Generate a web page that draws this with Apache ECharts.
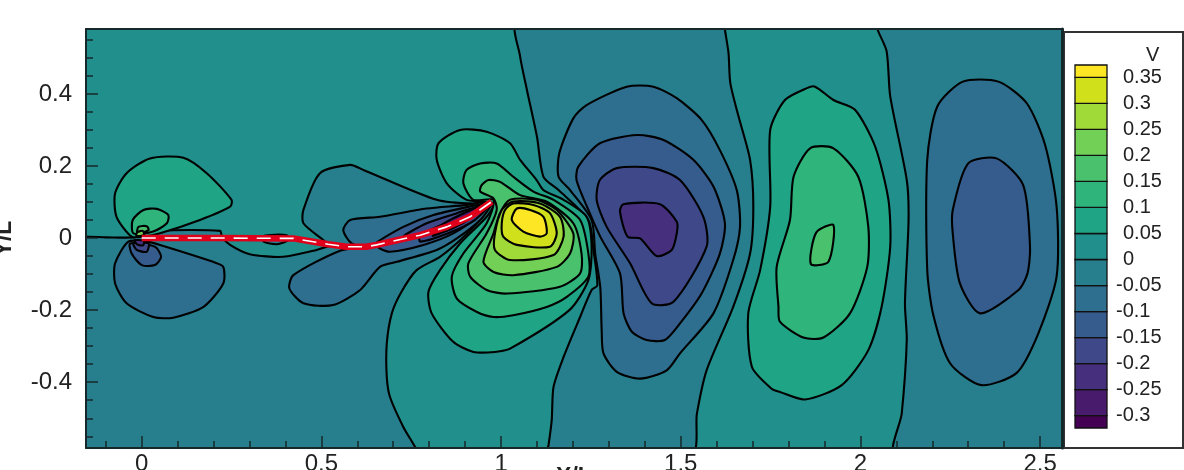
<!DOCTYPE html>
<html>
<head>
<meta charset="utf-8">
<title>V contour</title>
<script src="https://cdn.jsdelivr.net/npm/echarts@6/dist/echarts.min.js"></script>
<style>
html, body { margin: 0; padding: 0; background: #fff; overflow: hidden; }
#chart { width: 1184px; height: 470px; filter: blur(0.5px); }
</style>
</head>
<body>
<div id="chart"></div>
<script>
// tick positions
const xMajorTicks = [0, 0.5, 1, 1.5, 2, 2.5];
const xMinorTicks = [-0.1, 0.1, 0.2, 0.3, 0.4, 0.6, 0.7, 0.8, 0.9, 1.1, 1.2, 1.3, 1.4, 1.6, 1.7, 1.8, 1.9, 2.1, 2.2, 2.3, 2.4];
const yMajorTicks = [-0.4, -0.2, 0, 0.2, 0.4];
const yMinorTicks = [-0.55, -0.5, -0.45, -0.35, -0.3, -0.25, -0.15, -0.1, -0.05, 0.05, 0.1, 0.15, 0.25, 0.3, 0.35, 0.45, 0.5, 0.55];

// colour bar levels
const legendPositive = [0.35, 0.3, 0.25, 0.2, 0.15, 0.1, 0.05, 0];
const legendNegative = [-0.05, -0.1, -0.15, -0.2, -0.25, -0.3];
const bandFloors = [-0.3236, -0.3, -0.25, -0.2, -0.15, -0.1, -0.05, 0, 0.05, 0.1, 0.15, 0.2, 0.25, 0.3, 0.35];
const bandCeil = 0.3736;

// plate centre line
const plate = [[0, 0], [0.218, 0], [0.422, -0.001], [0.519, -0.017], [0.57, -0.024], [0.625, -0.024], [0.654, -0.019], [0.71, -0.006], [0.775, 0.008], [0.849, 0.031], [0.914, 0.059], [0.974, 0.101]];

// zero contour regions (V between -0.05 and 0)
const zeroLowerLeft = [[-0.17, -0.02], [-0.17, 0.002], [-0.1, 0.002], [-0.02, 0.002], [0.051, 0.02], [0.218, 0.02], [0.223, 0.004], [0.246, -0.019], [0.301, -0.045], [0.394, -0.052], [0.487, -0.033], [0.543, -0.017], [0.57, -0.024], [0.625, -0.024], [0.654, -0.019], [0.71, -0.006], [0.775, 0.008], [0.849, 0.031], [0.914, 0.059], [0.974, 0.101], [0.941, 0.05], [0.886, -0.006], [0.83, -0.052], [0.765, -0.089], [0.723, -0.149], [0.696, -0.209], [0.682, -0.293], [0.682, -0.385], [0.691, -0.441], [0.728, -0.524], [0.761, -0.58], [0.77, -0.6], [-0.17, -0.6]];
const zeroWakeOne = [[1.045, 0.6], [1.62, 0.6], [1.623, 0.578], [1.633, 0.513], [1.638, 0.43], [1.661, 0.337], [1.693, 0.217], [1.702, 0.087], [1.693, -0.043], [1.646, -0.191], [1.572, -0.367], [1.545, -0.487], [1.53, -0.6], [1.127, -0.6], [1.132, -0.575], [1.141, -0.505], [1.146, -0.413], [1.174, -0.33], [1.22, -0.219], [1.252, -0.144], [1.268, -0.131], [1.257, -0.033], [1.243, 0.05], [1.16, 0.133], [1.118, 0.17], [1.1, 0.281], [1.072, 0.411], [1.053, 0.504]];
const zeroWakeTwo = [[2.045, 0.6], [2.048, 0.578], [2.073, 0.518], [2.083, 0.393], [2.129, 0.161], [2.134, 0.05], [2.124, -0.181], [2.129, -0.283], [2.115, -0.487], [2.097, -0.6], [2.6, -0.6], [2.6, 0.6]];
const zeroUpperLobe = [[0.506, -0.006], [0.45, 0.041], [0.45, 0.078], [0.496, 0.18], [0.58, 0.203], [0.617, 0.189], [0.821, 0.106], [0.923, 0.096], [0.974, 0.103], [0.914, 0.059], [0.849, 0.031], [0.775, 0.008], [0.71, -0.006], [0.654, -0.019], [0.625, -0.024], [0.57, -0.024], [0.519, -0.017]];
const zeroSmallLobe = [[0.339, 0.006], [0.404, 0.008], [0.408, -0.006], [0.376, -0.017], [0.339, -0.01]];

// negative contours along the plate
const n05LowerLobe = [[0.552, -0.035], [0.422, -0.103], [0.411, -0.14], [0.45, -0.181], [0.533, -0.186], [0.608, -0.144], [0.663, -0.08], [0.71, -0.066], [0.821, -0.033], [0.877, -0.001], [0.942, 0.05], [0.974, 0.096], [0.914, 0.059], [0.849, 0.031], [0.775, 0.008], [0.71, -0.006], [0.654, -0.019], [0.625, -0.024]];
const n05UpperLobe = [[0.584, -0.015], [0.561, 0.022], [0.58, 0.05], [0.663, 0.059], [0.793, 0.082], [0.905, 0.092], [0.974, 0.103], [0.914, 0.059], [0.849, 0.031], [0.775, 0.008], [0.71, -0.006], [0.654, -0.019], [0.625, -0.024]];
const n10Upper = [[0.649, -0.017], [0.728, 0.031], [0.812, 0.064], [0.951, 0.096], [0.974, 0.103], [0.914, 0.059], [0.849, 0.031], [0.775, 0.008], [0.71, -0.006]];
const n15Upper = [[0.728, 0.004], [0.793, 0.041], [0.877, 0.069], [0.96, 0.096], [0.974, 0.103], [0.914, 0.059], [0.849, 0.031], [0.775, 0.008]];
const n20Upper = [[0.802, 0.022], [0.877, 0.055], [0.965, 0.098], [0.914, 0.059], [0.849, 0.031]];
const n25Upper = [[0.83, 0.033], [0.89, 0.066], [0.968, 0.099], [0.914, 0.059], [0.849, 0.031]];
const n10Lower = [[0.663, -0.029], [0.691, -0.038], [0.784, -0.019], [0.867, 0.013], [0.942, 0.064], [0.974, 0.101], [0.914, 0.059], [0.849, 0.031], [0.775, 0.008], [0.71, -0.006], [0.654, -0.019]];
const n15Lower = [[0.775, -0.01], [0.849, 0.012], [0.927, 0.05], [0.974, 0.101], [0.914, 0.059], [0.849, 0.031], [0.775, 0.008]];
const n20Lower = [[0.81, 0.006], [0.87, 0.03], [0.95, 0.08], [0.974, 0.101], [0.914, 0.059], [0.849, 0.031]];
const n25Lower = [[0.84, 0.018], [0.9, 0.045], [0.96, 0.09], [0.914, 0.059], [0.849, 0.031]];

// positive lobe behind the trailing edge
const p05Main = [[0.979, 0.096], [0.904, 0.106], [0.849, 0.152], [0.821, 0.217], [0.826, 0.263], [0.886, 0.3], [0.96, 0.295], [1.025, 0.263], [1.053, 0.217], [1.099, 0.161], [1.118, 0.133], [1.174, 0.106], [1.238, 0.059], [1.252, -0.024], [1.243, -0.117], [1.19, -0.2], [1.025, -0.307], [0.983, -0.316], [0.923, -0.316], [0.867, -0.288], [0.807, -0.209], [0.798, -0.149], [0.83, -0.089], [0.886, -0.015], [0.96, 0.059]];
const p10Main = [[0.979, 0.106], [0.923, 0.106], [0.895, 0.152], [0.904, 0.189], [0.942, 0.207], [0.988, 0.207], [1.034, 0.17], [1.09, 0.129], [1.146, 0.106], [1.22, 0.05], [1.243, -0.043], [1.243, -0.107], [1.183, -0.163], [1.127, -0.191], [1.034, -0.214], [0.979, -0.219], [0.933, -0.205], [0.877, -0.168], [0.863, -0.107], [0.895, -0.043], [0.96, 0.041]];
const p15Main = [[0.979, 0.11], [0.942, 0.129], [0.946, 0.147], [0.965, 0.161], [0.997, 0.156], [1.053, 0.119], [1.127, 0.101], [1.201, 0.041], [1.224, -0.043], [1.22, -0.098], [1.164, -0.135], [1.016, -0.154], [0.96, -0.144], [0.914, -0.107], [0.909, -0.07], [0.96, 0.013], [0.988, 0.078]];
const p20Main = [[0.951, -0.066], [0.979, -0.094], [1.034, -0.103], [1.155, -0.08], [1.192, -0.043], [1.201, 0.013], [1.155, 0.078], [1.099, 0.106], [1.025, 0.106], [0.997, 0.069], [0.979, 0.013]];
const p25Main = [[0.983, -0.033], [1.025, -0.061], [1.146, -0.047], [1.174, 0.004], [1.164, 0.059], [1.108, 0.096], [1.034, 0.101], [1.002, 0.078], [0.983, 0.013]];
const p30Main = [[1.006, 0.004], [1.044, -0.019], [1.136, -0.024], [1.155, 0.013], [1.136, 0.069], [1.09, 0.092], [1.034, 0.096], [1.011, 0.078], [1.002, 0.041]];
const p35Main = [[1.03, 0.05], [1.062, 0.018], [1.108, 0.004], [1.127, 0.013], [1.118, 0.059], [1.081, 0.078], [1.044, 0.082]];

// first negative wake vortex
const n05Wake = [[1.201, 0.332], [1.238, 0.369], [1.35, 0.42], [1.424, 0.42], [1.489, 0.388], [1.558, 0.328], [1.609, 0.244], [1.656, 0.133], [1.665, 0.031], [1.646, -0.061], [1.591, -0.209], [1.498, -0.32], [1.461, -0.367], [1.387, -0.39], [1.322, -0.371], [1.285, -0.32], [1.28, -0.256], [1.276, -0.135], [1.262, -0.043], [1.252, 0.05], [1.192, 0.133], [1.16, 0.17], [1.162, 0.235]];
const n10Wake = [[1.21, 0.161], [1.215, 0.198], [1.275, 0.263], [1.378, 0.286], [1.452, 0.272], [1.535, 0.217], [1.591, 0.143], [1.623, 0.041], [1.609, -0.043], [1.558, -0.154], [1.498, -0.237], [1.456, -0.283], [1.405, -0.283], [1.364, -0.26], [1.341, -0.209], [1.331, -0.098], [1.276, 0.004], [1.243, 0.078]];
const n15Wake = [[1.266, 0.106], [1.275, 0.161], [1.322, 0.194], [1.424, 0.194], [1.498, 0.161], [1.563, 0.059], [1.572, -0.024], [1.48, -0.177], [1.419, -0.181], [1.359, -0.07], [1.294, 0.031]];
const n20Wake = [[1.331, 0.073], [1.34, 0.094], [1.442, 0.094], [1.489, 0.045], [1.489, 0.013], [1.475, -0.033], [1.433, -0.05], [1.387, -0.001], [1.352, 0.004]];

// positive wake vortex
const p05Wake = [[1.874, 0.42], [1.925, 0.383], [1.985, 0.356], [2.041, 0.254], [2.078, 0.106], [2.083, -0.024], [2.059, -0.191], [2.022, -0.311], [1.948, -0.408], [1.846, -0.448], [1.776, -0.427], [1.753, -0.418], [1.698, -0.357], [1.688, -0.209], [1.721, -0.089], [1.749, 0.087], [1.749, 0.3], [1.79, 0.383], [1.851, 0.416]];
const p10Wake = [[1.86, 0.249], [1.925, 0.249], [1.994, 0.17], [2.022, 0.031], [2.019, -0.08], [1.971, -0.209], [1.897, -0.276], [1.841, -0.276], [1.776, -0.232], [1.772, -0.191], [1.767, -0.08], [1.804, 0.05], [1.814, 0.17]];
const p15Wake = [[1.862, -0.072], [1.911, -0.066], [1.925, 0.036], [1.877, 0.015]];

// second negative wake vortex
const n05WakeFar = [[2.214, 0.365], [2.285, 0.434], [2.384, 0.434], [2.463, 0.374], [2.514, 0.258], [2.546, 0.087], [2.546, -0.107], [2.495, -0.265], [2.435, -0.374], [2.336, -0.408], [2.25, -0.348], [2.203, -0.214], [2.186, -0.089], [2.186, 0.217]];
const n10WakeFar = [[2.3, 0.207], [2.379, 0.221], [2.453, 0.147], [2.472, -0.024], [2.465, -0.098], [2.44, -0.144], [2.333, -0.209], [2.277, -0.126], [2.257, 0.013], [2.257, 0.078]];

// leading edge lobes
const p05Nose = [[-0.028, 0.004], [-0.07, 0.059], [-0.074, 0.124], [-0.042, 0.18], [0.023, 0.221], [0.116, 0.223], [0.181, 0.18], [0.25, 0.106], [0.246, 0.087], [0.162, 0.05], [0.051, 0.013], [0.005, 0.004]];
const p10Nose = [[-0.023, 0.013], [-0.025, 0.05], [0.005, 0.078], [0.042, 0.081], [0.074, 0.064], [0.07, 0.041], [0.032, 0.018]];
const p15Nose = [[-0.012, 0.013], [-0.009, 0.031], [0.014, 0.033], [0.019, 0.022]];
const p20Nose = [[-0.015, 0.006], [-0.012, 0.016], [0.003, 0.02], [0.006, 0.008]];
const n05Nose = [[-0.037, -0.01], [-0.074, -0.07], [-0.074, -0.126], [-0.042, -0.181], [0.032, -0.219], [0.088, -0.221], [0.172, -0.191], [0.227, -0.126], [0.227, -0.08], [0.199, -0.066], [0.051, -0.019], [0.014, -0.01]];
const n10Nose = [[-0.032, -0.015], [-0.028, -0.043], [0, -0.075], [0.037, -0.075], [0.054, -0.052], [0.037, -0.024]];
const n15Nose = [[-0.023, -0.015], [-0.014, -0.033], [0.014, -0.038], [0.019, -0.015]];
const n20Nose = [[-0.02, -0.006], [-0.012, -0.018], [0.004, -0.02], [0.006, -0.008]];

// viridis style palette, one colour per band of bandFloors
const bandColors = ['#440154', '#481b6d', '#46307e', '#3f4889', '#365c8d', '#2e6e8e', '#277f8e', '#218f8b', '#20a486', '#2fb47c', '#4ac16d', '#73d056', '#a0da39', '#d0e11c', '#fde725'];

// painted back to front, floor = lower value of the band inside the contour
const contourList = [
    [zeroLowerLeft, -0.05], [zeroWakeOne, -0.05], [zeroWakeTwo, -0.05], [zeroUpperLobe, -0.05], [zeroSmallLobe, -0.05],
    [n05LowerLobe, -0.1], [n05UpperLobe, -0.1], [n10Upper, -0.15], [n15Upper, -0.2], [n20Upper, -0.25], [n25Upper, -0.3],
    [n10Lower, -0.15], [n15Lower, -0.2], [n20Lower, -0.25], [n25Lower, -0.3],
    [n05Wake, -0.1], [n10Wake, -0.15], [n15Wake, -0.2], [n20Wake, -0.25],
    [p05Main, 0.05], [p10Main, 0.1], [p15Main, 0.15], [p20Main, 0.2], [p25Main, 0.25], [p30Main, 0.3], [p35Main, 0.35],
    [p05Wake, 0.05], [p10Wake, 0.1], [p15Wake, 0.15],
    [n05WakeFar, -0.1], [n10WakeFar, -0.15],
    [p05Nose, 0.05], [p10Nose, 0.1], [p15Nose, 0.15], [p20Nose, 0.2],
    [n05Nose, -0.1], [n10Nose, -0.15], [n15Nose, -0.2], [n20Nose, -0.25]
];

function bandColor(floor) {
    return bandColors[bandFloors.indexOf(floor)];
}

const frameColor = '#17282a';
const textColor = '#222';
const fontName = '"Liberation Sans", Arial, sans-serif';
const xRange = { min: -0.155, max: 2.561 };
const yRange = { min: -0.5825, max: 0.58 };

const chart = echarts.init(document.getElementById('chart'));

const option = {
    animation: false,
    backgroundColor: '#fff',
    title: {
        text: 'V',
        left: 1141,
        top: 40,
        textStyle: { fontFamily: fontName, fontSize: 20, fontWeight: 'normal', color: textColor }
    },
    graphic: [{
        type: 'rect',
        z: -1,
        shape: { x: 1064, y: 32, width: 119, height: 416 },
        style: { fill: '#fff', stroke: '#333', lineWidth: 2 }
    }],
    grid: [
        { left: 86, right: 122, top: 29, bottom: 22, outerBoundsMode: 'none', show: true, backgroundColor: bandColor(0), borderWidth: 0 },
        { left: 1075, width: 32, top: 65, height: 363, outerBoundsMode: 'none' }
    ],
    xAxis: [
        {
            type: 'value', gridIndex: 0, position: 'bottom', ...xRange, z: 5,
            name: 'X/L', nameLocation: 'middle', nameGap: 18, nameMoveOverlap: false,
            nameTextStyle: { fontFamily: fontName, fontSize: 23, fontWeight: 'bold', color: textColor },
            splitLine: { show: false },
            axisLine: { onZero: false, lineStyle: { color: frameColor, width: 2 } },
            axisTick: { inside: true, length: 12, customValues: xMajorTicks, lineStyle: { color: frameColor, width: 1.5 } },
            axisLabel: { customValues: xMajorTicks, margin: 4, fontFamily: fontName, fontSize: 24, color: textColor }
        },
        {
            type: 'value', gridIndex: 0, position: 'bottom', ...xRange, z: 5,
            splitLine: { show: false },
            axisLine: { show: false, onZero: false },
            axisTick: { inside: true, length: 7, customValues: xMinorTicks, lineStyle: { color: frameColor, width: 1.5 } },
            axisLabel: { show: false }
        },
        {
            type: 'value', gridIndex: 0, position: 'top', ...xRange, z: 5,
            splitLine: { show: false },
            axisLine: { onZero: false, lineStyle: { color: frameColor, width: 2 } },
            axisTick: { show: false },
            axisLabel: { show: false }
        },
        { type: 'value', gridIndex: 1, min: 0, max: 1, show: false }
    ],
    yAxis: [
        {
            type: 'value', gridIndex: 0, position: 'left', ...yRange, z: 5,
            name: 'Y/L', nameLocation: 'middle', nameGap: 70, nameMoveOverlap: false,
            nameTextStyle: { fontFamily: fontName, fontSize: 23, fontWeight: 'bold', color: textColor },
            splitLine: { show: false },
            axisLine: { onZero: false, lineStyle: { color: frameColor, width: 2 } },
            axisTick: { inside: true, length: 12, customValues: yMajorTicks, lineStyle: { color: frameColor, width: 1.5 } },
            axisLabel: { customValues: yMajorTicks, margin: 14, fontFamily: fontName, fontSize: 24, color: textColor }
        },
        {
            type: 'value', gridIndex: 0, position: 'left', ...yRange, z: 5,
            splitLine: { show: false },
            axisLine: { show: false, onZero: false },
            axisTick: { inside: true, length: 7, customValues: yMinorTicks, lineStyle: { color: frameColor, width: 1.5 } },
            axisLabel: { show: false }
        },
        {
            type: 'value', gridIndex: 0, position: 'right', ...yRange, z: 5,
            splitLine: { show: false },
            axisLine: { onZero: false, lineStyle: { color: frameColor, width: 3 } },
            axisTick: { show: false },
            axisLabel: { show: false }
        },
        {
            type: 'value', gridIndex: 1, position: 'right', min: -0.3236, max: bandCeil,
            splitLine: { show: false }, axisLine: { show: false }, axisTick: { show: false },
            axisLabel: { customValues: legendPositive, margin: 16, fontFamily: fontName, fontSize: 20, color: textColor }
        },
        {
            type: 'value', gridIndex: 1, position: 'right', min: -0.3236, max: bandCeil,
            splitLine: { show: false }, axisLine: { show: false }, axisTick: { show: false },
            axisLabel: { customValues: legendNegative, margin: 9, fontFamily: fontName, fontSize: 20, color: textColor }
        }
    ],
    series: [
        {
            // filled contour regions
            type: 'custom',
            xAxisIndex: 0,
            yAxisIndex: 0,
            clip: true,
            z: 2,
            data: contourList.map((c, i) => [i]),
            renderItem: function (params, api) {
                const item = contourList[params.dataIndex];
                return {
                    type: 'polygon',
                    shape: { points: item[0].map(p => api.coord(p)), smooth: 0.25 },
                    style: { fill: bandColor(item[1]), stroke: '#000', lineWidth: 2.1, lineJoin: 'round' }
                };
            }
        },
        {
            type: 'line', xAxisIndex: 0, yAxisIndex: 0, z: 3, data: plate,
            symbol: 'none', silent: true,
            lineStyle: { color: '#e0001b', width: 6.5 }
        },
        {
            type: 'line', xAxisIndex: 0, yAxisIndex: 0, z: 4, data: plate,
            symbol: 'none', silent: true,
            lineStyle: { color: '#fff', width: 1.6, type: [14, 9] }
        },
        {
            // colour bar
            type: 'custom',
            xAxisIndex: 3,
            yAxisIndex: 3,
            z: 2,
            data: bandFloors.map((f, i) => [f, i < bandFloors.length - 1 ? bandFloors[i + 1] : bandCeil]),
            renderItem: function (params, api) {
                const a = api.coord([0, api.value(1)]);
                const b = api.coord([1, api.value(0)]);
                return {
                    type: 'rect',
                    shape: { x: a[0], y: a[1], width: b[0] - a[0], height: b[1] - a[1] },
                    style: { fill: bandColors[params.dataIndex], stroke: '#111', lineWidth: 1.3 }
                };
            }
        }
    ]
};

chart.setOption(option);
</script>
</body>
</html>
